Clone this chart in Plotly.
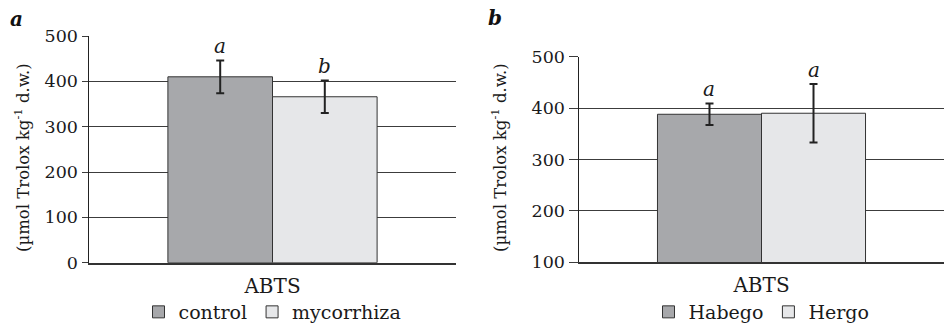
import plotly.graph_objects as go

category = ["ABTS"]

# Panel a
a_names = ["control", "mycorrhiza"]
a_values = [410, 366]
a_errors = [36, 36]
a_letters = ["a", "b"]

# Panel b
b_names = ["Habego", "Hergo"]
b_values = [388, 390]
b_errors = [21, 57]
b_letters = ["a", "a"]

colors = ["#a7a8ab", "#e6e7e9"]
FONT = "DejaVu Serif"
TXT = "#1a1a1a"
W, H = 944, 325

fig = go.Figure()

for i, (n, v, e) in enumerate(zip(a_names, a_values, a_errors)):
    fig.add_trace(go.Bar(
        x=category, y=[v], name=n, xaxis="x", yaxis="y", legend="legend",
        marker=dict(color=colors[i], line=dict(color="#333333", width=1)),
        error_y=dict(type="data", array=[e], color="#222222", thickness=2, width=4),
        hoverinfo="skip",
    ))
for i, (n, v, e) in enumerate(zip(b_names, b_values, b_errors)):
    fig.add_trace(go.Bar(
        x=category, y=[v], name=n, xaxis="x2", yaxis="y2", legend="legend2",
        marker=dict(color=colors[i], line=dict(color="#333333", width=1)),
        error_y=dict(type="data", array=[e], color="#222222", thickness=2, width=4),
        hoverinfo="skip",
    ))

ax_dom = [89 / W, 456 / W]
bx_dom = [579 / W, 1.0]
ay_dom = [1 - 262.7 / H, 1 - 36 / H]
by_dom = [1 - 262.3 / H, 1 - 56.7 / H]

bargap = 0.43
a_bw = (ax_dom[1] - ax_dom[0]) * W * (1 - bargap) / 2
b_bw = (bx_dom[1] - bx_dom[0]) * W * (1 - bargap) / 2

annotations = []
for i, (v, e, t) in enumerate(zip(a_values, a_errors, a_letters)):
    annotations.append(dict(x=category[0], y=v + e, xref="x", yref="y", text=t,
                            showarrow=False, yanchor="middle", yshift=14,
                            xshift=(i - 0.5) * a_bw,
                            font=dict(family=FONT, size=20, color=TXT, style="italic")))
for i, (v, e, t) in enumerate(zip(b_values, b_errors, b_letters)):
    annotations.append(dict(x=category[0], y=v + e, xref="x2", yref="y2", text=t,
                            showarrow=False, yanchor="middle", yshift=14,
                            xshift=(i - 0.5) * b_bw,
                            font=dict(family=FONT, size=20, color=TXT, style="italic")))
annotations.append(dict(x=16 / W, y=1 - 19 / H, xref="paper", yref="paper", text="<b><i>a</i></b>",
                        showarrow=False, xanchor="center", yanchor="middle",
                        font=dict(family=FONT, size=20, color="#111111")))
annotations.append(dict(x=495 / W, y=1 - 18 / H, xref="paper", yref="paper", text="<b><i>b</i></b>",
                        showarrow=False, xanchor="center", yanchor="middle",
                        font=dict(family=FONT, size=20, color="#111111")))

ytitle = "(µmol Trolox kg<sup>-1</sup> d.w.)"
annotations.append(dict(x=22 / W, y=1 - 158 / H, xref="paper", yref="paper",
                        text=ytitle, textangle=-90, showarrow=False,
                        xanchor="center", yanchor="middle",
                        font=dict(family=FONT, size=16.5, color=TXT)))
annotations.append(dict(x=499 / W, y=1 - 158 / H, xref="paper", yref="paper",
                        text=ytitle, textangle=-90, showarrow=False,
                        xanchor="center", yanchor="middle",
                        font=dict(family=FONT, size=16.5, color=TXT)))

yax_common = dict(showgrid=True, gridcolor="#3c3c3c", gridwidth=1,
                  ticks="outside", tickcolor="#3c3c3c", tickwidth=1,
                  showline=True, linecolor="#222222", linewidth=1.5, automargin=False,
                  tickfont=dict(family=FONT, size=17.5, color=TXT), zeroline=False)
xax_common = dict(showline=True, linecolor="#333333", linewidth=2, ticks="", automargin=False,
                  ticklabelstandoff=4,
                  tickfont=dict(family=FONT, size=20, color=TXT))

fig.update_layout(
    width=W, height=H,
    margin=dict(l=0, r=0, t=0, b=0, autoexpand=False),
    paper_bgcolor="white", plot_bgcolor="white",
    barmode="group", bargap=bargap, bargroupgap=0,
    showlegend=True, hovermode=False,
    xaxis=dict(domain=ax_dom, anchor="y", **xax_common),
    yaxis=dict(domain=ay_dom, anchor="x", range=[0, 500], tickvals=[0, 100, 200, 300, 400, 500],
               ticklen=6, **yax_common),
    xaxis2=dict(domain=bx_dom, anchor="y2", **xax_common),
    yaxis2=dict(domain=by_dom, anchor="x2", range=[100, 500], tickvals=[100, 200, 300, 400, 500],
                ticklen=9, **yax_common),
    legend=dict(orientation="h", x=(ax_dom[0] + ax_dom[1]) / 2, xanchor="center",
                y=1 - 312 / H, yanchor="middle", font=dict(family=FONT, size=19, color=TXT),
                itemwidth=30, tracegroupgap=0, bgcolor="rgba(0,0,0,0)"),
    legend2=dict(orientation="h", x=(bx_dom[0] + bx_dom[1]) / 2, xanchor="center",
                 y=1 - 312 / H, yanchor="middle", font=dict(family=FONT, size=19, color=TXT),
                 itemwidth=30, tracegroupgap=0, bgcolor="rgba(0,0,0,0)"),
    annotations=annotations,
)

fig.write_html(
    "out.html",
    config={"displayModeBar": False, "staticPlot": True},
    post_script="document.body.style.margin='0px';document.body.style.overflow='hidden';",
)
